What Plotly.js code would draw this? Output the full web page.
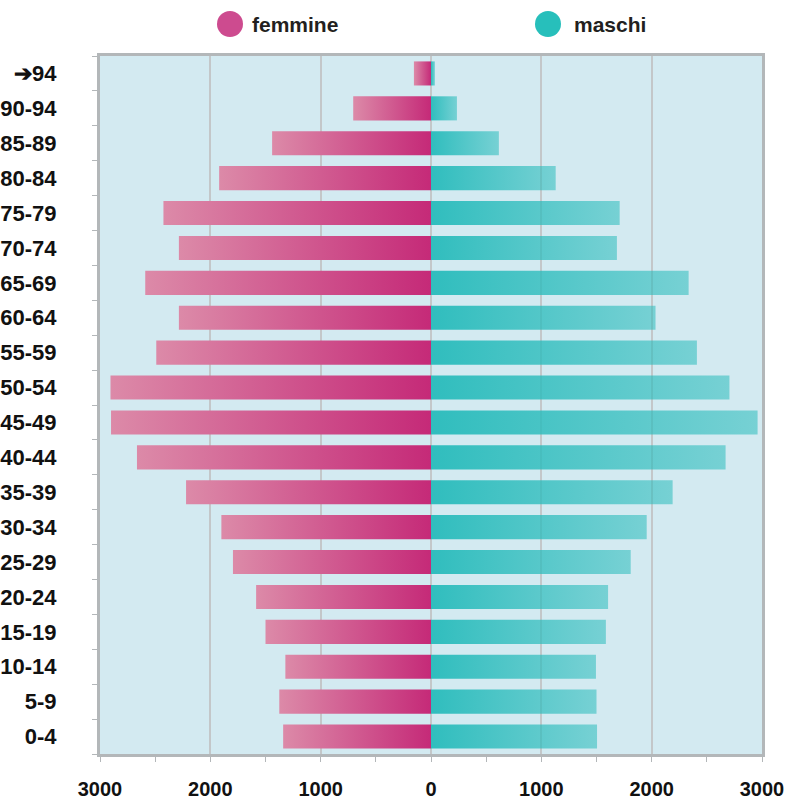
<!DOCTYPE html>
<html>
<head>
<meta charset="utf-8">
<script src="https://cdn.plot.ly/plotly-3.0.1.min.js"></script>
<style>html,body{margin:0;padding:0;background:#fff;}</style>
</head>
<body>
<div id="chart" style="width:795px;height:808px;"></div>
<script>
// Age classes, bottom to top
const categories = ['0-4','5-9','10-14','15-19','20-24','25-29','30-34','35-39','40-44','45-49',
                    '50-54','55-59','60-64','65-69','70-74','75-79','80-84','85-89','90-94','\u279494'];
// Female population per class
const femmine = [1340,1375,1320,1500,1585,1795,1900,2220,2665,2900,
                 2905,2490,2285,2590,2285,2425,1920,1440,705,155];
// Male population per class
const maschi  = [1505,1500,1495,1585,1605,1810,1955,2190,2670,2960,
                 2705,2410,2035,2335,1685,1710,1130,615,235,35];
// X axis ticks (absolute values shown on both sides)
const xTickVals = [-3000,-2000,-1000,0,1000,2000,3000];
const xTickText = ['3000','2000','1000','0','1000','2000','3000'];
const seriesNames = ['femmine','maschi'];

const FONT = 'Liberation Sans, Arial, sans-serif';
const pinkLight = '#dc8aa8', pinkDark = '#c52a78';
const tealDark = 'rgba(43,188,188,0.97)', tealLight = 'rgba(43,188,188,0.55)';
const half = 0.345;

function barPolygon(i, x0, x1) {
  return {
    x: [x0, x1, x1, x0, x0],
    y: [i - half, i - half, i + half, i + half, i - half]
  };
}

const traces = [];
categories.forEach((c, i) => {
  const pf = barPolygon(i, -femmine[i], 0);
  traces.push({
    type: 'scatter', mode: 'none', fill: 'toself',
    x: pf.x, y: pf.y, name: seriesNames[0], showlegend: false,
    fillgradient: {type: 'horizontal', colorscale: [[0, pinkLight], [1, pinkDark]]},
    hoveron: 'fills', text: c + ': ' + femmine[i], hoverinfo: 'text'
  });
  const pm = barPolygon(i, 0, maschi[i]);
  traces.push({
    type: 'scatter', mode: 'none', fill: 'toself',
    x: pm.x, y: pm.y, name: seriesNames[1], showlegend: false,
    fillgradient: {type: 'horizontal', colorscale: [[0, tealDark], [1, tealLight]]},
    hoveron: 'fills', text: c + ': ' + maschi[i], hoverinfo: 'text'
  });
});

const yLeg = 1 + (56 - 24) / 698;
const layout = {
  width: 795, height: 808,
  margin: {l: 100, r: 33, t: 56, b: 54},
  paper_bgcolor: '#ffffff',
  plot_bgcolor: '#d3eaf1',
  showlegend: false,
  xaxis: {
    range: [-3000, 3000],
    tickmode: 'array', tickvals: xTickVals, ticktext: xTickText,
    showgrid: true, gridcolor: '#c3c7c9', gridwidth: 2,
    zeroline: false,
    showline: true, mirror: true, linecolor: '#b3b7b9', linewidth: 3,
    ticks: 'outside', ticklen: 5, tickcolor: '#b3b7b9', tickwidth: 1,
    minor: {dtick: 500, ticks: 'outside', ticklen: 5, tickcolor: '#b3b7b9', showgrid: false},
    ticklabelstandoff: 10,
    tickfont: {family: FONT, size: 20, color: '#111111', weight: 'bold'},
    fixedrange: true
  },
  yaxis: {
    range: [-0.5, 19.5],
    tickmode: 'array', tickvals: categories.map((c, i) => i), ticktext: categories,
    showgrid: false, zeroline: false,
    showline: true, mirror: true, linecolor: '#b3b7b9', linewidth: 3,
    ticks: '',
    minor: {tick0: 0.5, dtick: 1, ticks: 'outside', ticklen: 5, tickcolor: '#b3b7b9', showgrid: false},
    ticklabelstandoff: 36,
    tickfont: {family: FONT, size: 22, color: '#111111', weight: 'bold'},
    fixedrange: true
  },
  shapes: [
    {type: 'circle', xref: 'paper', yref: 'paper', xsizemode: 'pixel', ysizemode: 'pixel',
     xanchor: (230 - 100) / 662, yanchor: yLeg, x0: -13, x1: 13, y0: -13, y1: 13,
     fillcolor: '#cd4b8f', line: {width: 0}},
    {type: 'circle', xref: 'paper', yref: 'paper', xsizemode: 'pixel', ysizemode: 'pixel',
     xanchor: (548 - 100) / 662, yanchor: yLeg, x0: -13, x1: 13, y0: -13, y1: 13,
     fillcolor: '#27bfbb', line: {width: 0}}
  ],
  annotations: [
    {text: seriesNames[0], xref: 'paper', yref: 'paper', x: (250 - 100) / 662, y: yLeg,
     xanchor: 'left', yanchor: 'middle', showarrow: false,
     font: {family: FONT, size: 21, color: '#231f20', weight: 'bold'}},
    {text: seriesNames[1], xref: 'paper', yref: 'paper', x: (572 - 100) / 662, y: yLeg,
     xanchor: 'left', yanchor: 'middle', showarrow: false,
     font: {family: FONT, size: 21, color: '#231f20', weight: 'bold'}}
  ]
};

Plotly.newPlot('chart', traces, layout, {displayModeBar: false, staticPlot: true});
</script>
</body>
</html>
